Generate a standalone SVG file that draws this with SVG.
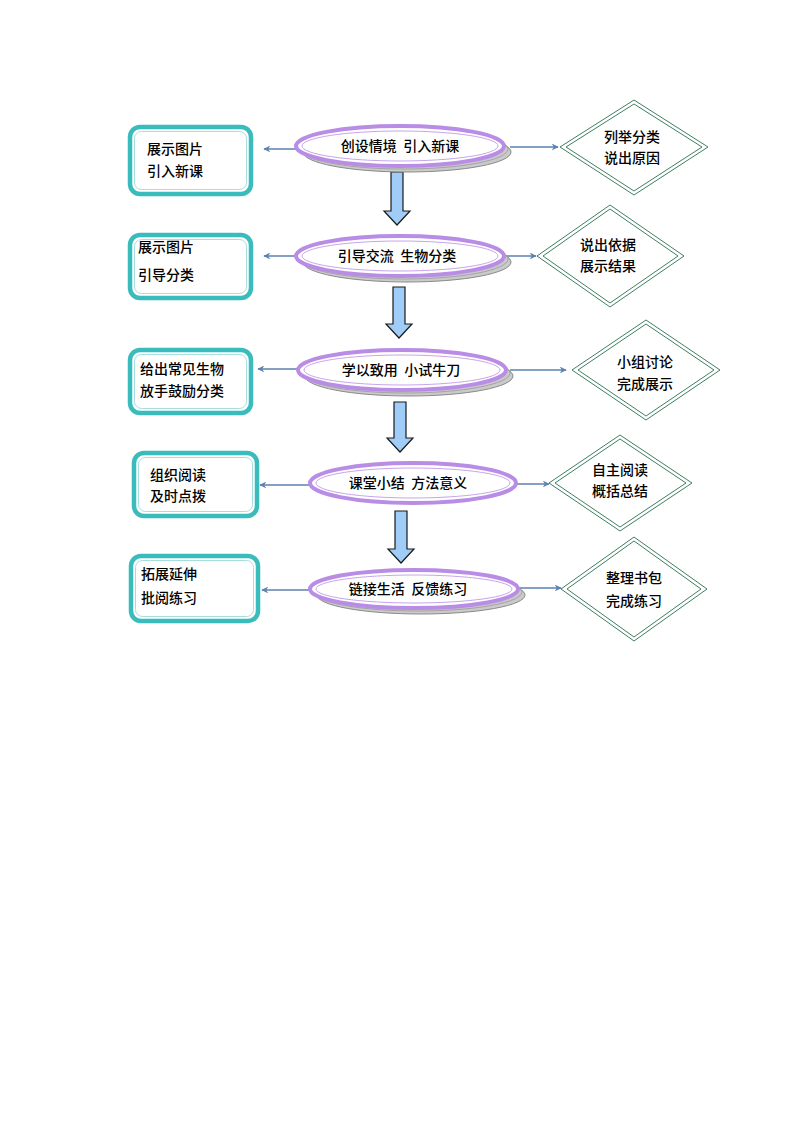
<svg xmlns="http://www.w3.org/2000/svg" width="794" height="1123" viewBox="0 0 794 1123">
<style>
text{font-family:"Noto Sans CJK SC","Liberation Sans",sans-serif;font-size:14px;font-weight:500;fill:#000;white-space:pre}
.c{text-anchor:middle}
.box{fill:#fff;stroke:#3bbcbc;stroke-width:4.5}
.boxin{fill:none;stroke:#8fd6d6;stroke-width:0.8}
.ell{fill:#fff;stroke:#b98de6;stroke-width:4}
.ellin{fill:none;stroke:#b98de6;stroke-width:0.8}
.sh{fill:#cacaca;stroke:#8a8a8a;stroke-width:1}
.sh2{fill:none;stroke:#9a9a9a;stroke-width:0.8}
.dia{fill:#fff;stroke:#3f7f62;stroke-width:1}
.dia2{fill:none;stroke:#3f7f62;stroke-width:1}
.conn line{stroke:#5b82b0;stroke-width:1.5;marker-end:url(#ah)}
.down{fill:#9fcdf8;stroke:#1a1a1a;stroke-width:1.2}
</style>
<defs>
<marker id="ah" viewBox="0 0 10 10" refX="9" refY="5" markerWidth="7" markerHeight="7" markerUnits="userSpaceOnUse" orient="auto"><path d="M0,0 L10,5 L0,10 L3,5 z" fill="#5b82b0"/></marker>
</defs>
<rect width="794" height="1123" fill="#fff"/>

<g class="conn">
<line x1="296" y1="149" x2="264" y2="149"/>
<line x1="510" y1="147" x2="558" y2="147"/>
<line x1="296" y1="256" x2="264" y2="256"/>
<line x1="506" y1="256" x2="536" y2="256"/>
<line x1="298" y1="369" x2="258" y2="369"/>
<line x1="510" y1="370" x2="566" y2="370"/>
<line x1="310" y1="485" x2="260" y2="485"/>
<line x1="516" y1="484" x2="549" y2="484"/>
<line x1="310" y1="590" x2="262" y2="590"/>
<line x1="518" y1="588" x2="561" y2="588"/>
<path class="down" d="M391,172 H403 V211 H410 L397,225 L384,211 H391 Z"/>
<path class="down" d="M393,287 H405 V324 H412 L399,338 L386,324 H393 Z"/>
<path class="down" d="M394,402 H406 V438 H413 L400,452 L387,438 H394 Z"/>
<path class="down" d="M395,511 H407 V549 H414 L401,563 L388,549 H395 Z"/>
</g>

<g id="center1">
<ellipse class="sh" cx="407" cy="152" rx="104" ry="20"/>
<ellipse class="sh2" cx="404" cy="149" rx="104" ry="20"/>
<ellipse class="ell" cx="400" cy="146" rx="104" ry="20"/>
<ellipse class="ellin" cx="400" cy="146" rx="98" ry="15"/>
<text class="c" x="400" y="151">创设情境  引入新课</text>
</g>
<g id="left1">
<rect class="box" x="130" y="127" width="121" height="67" rx="10"/>
<rect class="boxin" x="134.5" y="131.5" width="112" height="58" rx="7"/>
<text x="147" y="154">展示图片</text>
<text x="147" y="176">引入新课</text>
</g>
<g id="right1">
<polygon class="dia" points="634,100 708,147 634,195 560,147"/>
<polygon class="dia2" points="634,104 702,147 634,191 566,147"/>
<text class="c" x="632" y="142">列举分类</text>
<text class="c" x="632" y="163">说出原因</text>
</g>

<g id="center2">
<ellipse class="sh" cx="407" cy="262" rx="104" ry="20"/>
<ellipse class="sh2" cx="404" cy="259" rx="104" ry="20"/>
<ellipse class="ell" cx="400" cy="256" rx="104" ry="20"/>
<ellipse class="ellin" cx="400" cy="256" rx="98" ry="15"/>
<text class="c" x="397" y="261">引导交流  生物分类</text>
</g>
<g id="left2">
<rect class="box" x="130" y="235" width="121" height="63" rx="10"/>
<rect class="boxin" x="134.5" y="239.5" width="112" height="54" rx="7"/>
<text x="138" y="252">展示图片</text>
<text x="138" y="280">引导分类</text>
</g>
<g id="right2">
<polygon class="dia" points="610,205 684,256 610,307 537,256"/>
<polygon class="dia2" points="610,209 678,256 610,303 543,256"/>
<text class="c" x="608" y="250">说出依据</text>
<text class="c" x="608" y="271">展示结果</text>
</g>

<g id="center3">
<ellipse class="sh" cx="409" cy="376" rx="104" ry="20"/>
<ellipse class="sh2" cx="406" cy="373" rx="104" ry="20"/>
<ellipse class="ell" cx="402" cy="370" rx="104" ry="20"/>
<ellipse class="ellin" cx="402" cy="370" rx="98" ry="15"/>
<text class="c" x="401" y="375">学以致用  小试牛刀</text>
</g>
<g id="left3">
<rect class="box" x="130" y="350" width="121" height="63" rx="10"/>
<rect class="boxin" x="134.5" y="354.5" width="112" height="54" rx="7"/>
<text x="140" y="374">给出常见生物</text>
<text x="140" y="396">放手鼓励分类</text>
</g>
<g id="right3">
<polygon class="dia" points="646,320 720,370 646,420 572,370"/>
<polygon class="dia2" points="646,324 714,370 646,416 578,370"/>
<text class="c" x="645" y="367">小组讨论</text>
<text class="c" x="645" y="389">完成展示</text>
</g>

<g id="center4">
<ellipse class="ell" cx="413" cy="483" rx="103" ry="20"/>
<ellipse class="ellin" cx="413" cy="483" rx="97" ry="15"/>
<text class="c" x="408" y="488">课堂小结  方法意义</text>
</g>
<g id="left4">
<rect class="box" x="134" y="453" width="123" height="63" rx="10"/>
<rect class="boxin" x="138.5" y="457.5" width="114" height="54" rx="7"/>
<text x="150" y="480">组织阅读</text>
<text x="150" y="501">及时点拨</text>
</g>
<g id="right4">
<polygon class="dia" points="620,435 692,483 620,531 549,483"/>
<polygon class="dia2" points="620,439 686,483 620,527 555,483"/>
<text class="c" x="620" y="475">自主阅读</text>
<text class="c" x="620" y="496">概括总结</text>
</g>

<g id="center5">
<ellipse class="sh" cx="421" cy="595" rx="104" ry="19"/>
<ellipse class="sh2" cx="418" cy="592" rx="104" ry="19"/>
<ellipse class="ell" cx="414" cy="589" rx="104" ry="19"/>
<ellipse class="ellin" cx="414" cy="589" rx="98" ry="14"/>
<text class="c" x="408" y="594">链接生活  反馈练习</text>
</g>
<g id="left5">
<rect class="box" x="131" y="556" width="127" height="65" rx="10"/>
<rect class="boxin" x="135.5" y="560.5" width="118" height="56" rx="7"/>
<text x="141" y="579">拓展延伸</text>
<text x="141" y="603">批阅练习</text>
</g>
<g id="right5">
<polygon class="dia" points="634,537 707,589 634,641 561,589"/>
<polygon class="dia2" points="634,541 701,589 634,637 567,589"/>
<text class="c" x="634" y="583">整理书包</text>
<text class="c" x="634" y="606">完成练习</text>
</g>
</svg>
